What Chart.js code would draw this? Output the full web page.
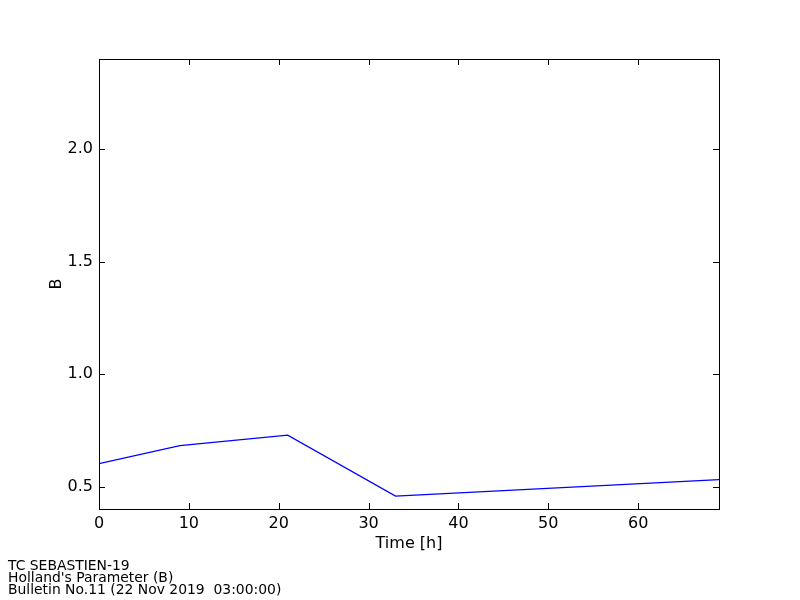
<!DOCTYPE html>
<html>
<head>
<meta charset="utf-8">
<script src="https://cdn.jsdelivr.net/npm/chart.js@4/dist/chart.umd.min.js"></script>
<style>
  body { margin: 0; background: #fff; }
  #wrap { position: relative; width: 800px; height: 600px; }
  #footer {
    position: absolute; left: 8px; top: 559px;
    font-family: "DejaVu Sans", sans-serif; font-size: 13.9px; line-height: 12px; color: #000;
  }
</style>
</head>
<body>
<div id="wrap">
  <canvas id="chart" width="800" height="600"></canvas>
  <div id="footer">
    <div>TC SEBASTIEN-19</div>
    <div>Holland's Parameter (B)</div>
    <div>Bulletin No.11 (22 Nov 2019&nbsp; 03:00:00)</div>
  </div>
</div>
<script>
// données
const hours = [0, 9, 21, 33, 69];
const bValues = [0.602, 0.682, 0.728, 0.457, 0.531];
const xTicks = [0, 10, 20, 30, 40, 50, 60];
const yTicks = [0.5, 1.0, 1.5, 2.0];

const FONT = '"DejaVu Sans", sans-serif';

// cadre + graduations vers l'intérieur, style matplotlib classique
const mplFrame = {
  id: 'mplFrame',
  afterDraw(chart) {
    const ctx = chart.ctx;
    const a = chart.chartArea;
    const xs = chart.scales.x, ys = chart.scales.y;
    const L = 6;
    ctx.save();
    ctx.strokeStyle = '#000';
    ctx.lineWidth = 1;
    ctx.beginPath();
    xTicks.forEach(v => {
      const px = Math.round(xs.getPixelForValue(v)) + 0.5;
      ctx.moveTo(px, a.bottom); ctx.lineTo(px, a.bottom - L);
      ctx.moveTo(px, a.top); ctx.lineTo(px, a.top + L);
    });
    yTicks.forEach(v => {
      const py = Math.round(ys.getPixelForValue(v)) + 0.5;
      ctx.moveTo(a.left, py); ctx.lineTo(a.left + L, py);
      ctx.moveTo(a.right, py); ctx.lineTo(a.right - L, py);
    });
    ctx.stroke();
    ctx.strokeRect(Math.round(a.left) + 0.5, Math.round(a.top) + 0.5,
                   Math.round(a.right - a.left), Math.round(a.bottom - a.top));

    // titres des axes
    ctx.fillStyle = '#000';
    ctx.font = '16px ' + FONT;
    ctx.textAlign = 'center';
    ctx.textBaseline = 'middle';
    ctx.fillText('Time [h]', (a.left + a.right) / 2, 544);
    ctx.translate(57, (a.top + a.bottom) / 2);
    ctx.rotate(-Math.PI / 2);
    ctx.fillText('B', 0, 0);
    ctx.restore();
  }
};

const ctx = document.getElementById('chart').getContext('2d');
new Chart(ctx, {
  type: 'line',
  data: {
    datasets: [{
      data: hours.map((h, i) => ({ x: h, y: bValues[i] })),
      borderColor: '#0000ff',
      borderWidth: 1.3,
      pointRadius: 0,
      tension: 0,
      fill: false
    }]
  },
  options: {
    responsive: false,
    animation: false,
    layout: { padding: { top: 59, right: 81, left: 0, bottom: 0 } },
    plugins: { legend: { display: false }, tooltip: { enabled: false } },
    scales: {
      x: {
        type: 'linear',
        min: 0, max: 69,
        afterBuildTicks: s => { s.ticks = xTicks.map(v => ({ value: v })); },
        afterFit: s => { s.height = 91; },
        grid: { display: false, drawTicks: false },
        border: { display: false },
        ticks: { color: '#000', font: { family: FONT, size: 16 }, padding: 5, maxRotation: 0 }
      },
      y: {
        min: 0.4, max: 2.4,
        afterBuildTicks: s => { s.ticks = yTicks.map(v => ({ value: v })); },
        afterFit: s => { s.width = 99; },
        grid: { display: false, drawTicks: false },
        border: { display: false },
        ticks: {
          color: '#000', font: { family: FONT, size: 16 }, padding: 6,
          callback: v => v.toFixed(1)
        }
      }
    }
  },
  plugins: [mplFrame]
});
</script>
</body>
</html>
